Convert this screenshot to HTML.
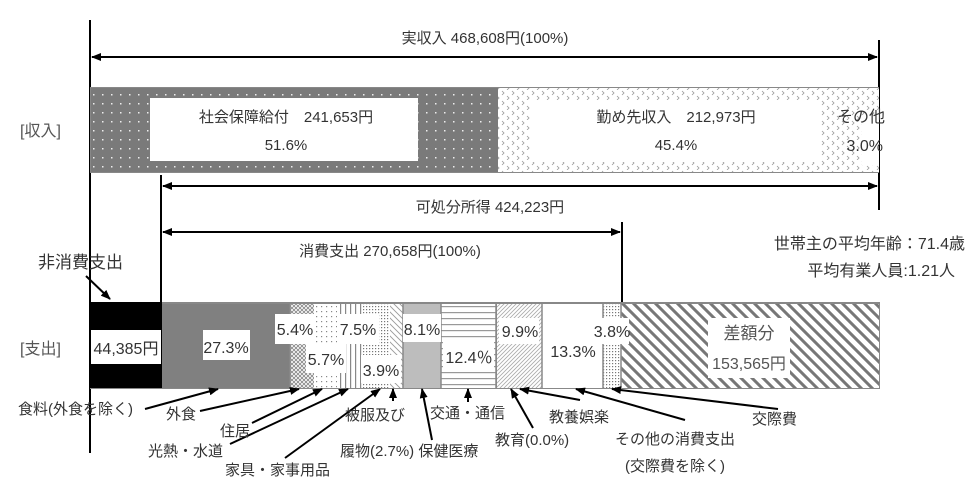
<!DOCTYPE html>
<html><head><meta charset="utf-8"><style>
html,body{margin:0;padding:0;background:#fff;}
svg{display:block;font-family:"Liberation Sans","Noto Sans CJK JP",sans-serif;}
text{fill:#333;font-size:15px;}
</style></head><body>
<svg width="978" height="497" viewBox="0 0 978 497" xmlns="http://www.w3.org/2000/svg">
<defs>
<pattern id="pdots" width="9" height="9" patternUnits="userSpaceOnUse"><rect width="9" height="9" fill="#7a7a7a"/><rect x="3" y="4" width="1.5" height="1.5" fill="#eee"/></pattern>
<pattern id="pwave" width="10" height="10" patternUnits="userSpaceOnUse"><rect width="10" height="10" fill="#fff"/><path d="M2 1 l2 2 l-2 2 M7 6 l2 2 l-2 2" stroke="#999" fill="none" stroke-width="0.8"/></pattern>
<pattern id="pcross" width="4" height="4" patternUnits="userSpaceOnUse"><rect width="4" height="4" fill="#fff"/><path d="M0 0 L4 4 M4 0 L0 4" stroke="#888" stroke-width="0.9"/></pattern>
<pattern id="pdot2" width="5" height="5" patternUnits="userSpaceOnUse"><rect width="5" height="5" fill="#fff"/><rect x="1" y="1" width="1.2" height="1.2" fill="#888"/></pattern>
<pattern id="pdot3" width="3" height="3" patternUnits="userSpaceOnUse"><rect width="3" height="3" fill="#fff"/><rect x="0" y="0" width="1.2" height="1.2" fill="#777"/></pattern>
<pattern id="pvert" width="5" height="5" patternUnits="userSpaceOnUse"><rect width="5" height="5" fill="#fff"/><rect x="0" width="1.2" height="5" fill="#888"/></pattern>
<pattern id="phor" width="6" height="6" patternUnits="userSpaceOnUse"><rect width="6" height="6" fill="#fff"/><rect y="0" width="6" height="1.2" fill="#999"/></pattern>
<pattern id="pdiagl" width="4" height="4" patternUnits="userSpaceOnUse"><rect width="4" height="4" fill="#fff"/><path d="M-1 1 L1 -1 M0 4 L4 0 M3 5 L5 3" stroke="#aaa" stroke-width="0.8"/></pattern>
<pattern id="pdiag" width="6" height="6" patternUnits="userSpaceOnUse"><rect width="6" height="6" fill="#fff"/><path d="M-1 -1 L7 7 M-1 5 L1 7 M5 -1 L7 1" stroke="#999" stroke-width="0.9"/></pattern>
<pattern id="phatch" width="11" height="11" patternUnits="userSpaceOnUse"><rect width="11" height="11" fill="#fff"/><path d="M-2 -2 L13 13 M-2 9 L2 13 M9 -2 L13 2" stroke="#777" stroke-width="3"/></pattern>
<marker id="ah" markerWidth="10" markerHeight="8" refX="9" refY="4" orient="auto" markerUnits="userSpaceOnUse"><path d="M0 0 L10 4 L0 8 z" fill="#000"/></marker>
<marker id="ahs" markerWidth="10" markerHeight="8" refX="1" refY="4" orient="auto" markerUnits="userSpaceOnUse"><path d="M10 0 L0 4 L10 8 z" fill="#000"/></marker>
</defs>

<line x1="90" y1="20" x2="90" y2="453" stroke="#000" stroke-width="2"/>
<line x1="879" y1="40" x2="879" y2="210" stroke="#000" stroke-width="2"/>
<line x1="161" y1="175" x2="161" y2="302" stroke="#000" stroke-width="2"/>
<line x1="622" y1="222" x2="622" y2="310" stroke="#000" stroke-width="2"/>

<line x1="92" y1="57" x2="877" y2="57" stroke="#000" stroke-width="2" marker-start="url(#ahs)" marker-end="url(#ah)"/>
<line x1="163" y1="186" x2="877" y2="186" stroke="#000" stroke-width="2" marker-start="url(#ahs)" marker-end="url(#ah)"/>
<line x1="163" y1="232" x2="620" y2="232" stroke="#000" stroke-width="2" marker-start="url(#ahs)" marker-end="url(#ah)"/>

<text x="485" y="43" text-anchor="middle">実収入 468,608円(100%)</text>
<text x="490" y="212" text-anchor="middle">可処分所得 424,223円</text>
<text x="390" y="256" text-anchor="middle">消費支出 270,658円(100%)</text>
<text x="965" y="249" text-anchor="end" style="font-size:16px">世帯主の平均年齢：71.4歳</text>
<text x="955" y="276" text-anchor="end" style="font-size:16px">平均有業人員:1.21人</text>

<rect x="90" y="87" width="789" height="86" fill="#888"/>
<rect x="91" y="88" width="407" height="84" fill="url(#pdots)"/>
<rect x="150" y="98" width="268" height="63" fill="#fff"/>
<rect x="498" y="88" width="357" height="84" fill="url(#pwave)"/>
<rect x="530" y="100" width="290" height="62" fill="#fff"/>
<rect x="855" y="88" width="24" height="84" fill="url(#pwave)"/>
<rect x="862" y="115" width="17" height="50" fill="#fff"/>
<text x="286" y="122" text-anchor="middle">社会保障給付　241,653円</text>
<text x="286" y="150" text-anchor="middle">51.6%</text>
<text x="676" y="122" text-anchor="middle">勤め先収入　212,973円</text>
<text x="676" y="150" text-anchor="middle">45.4%</text>
<text x="885" y="122" text-anchor="end" style="font-size:16px">その他</text>
<text x="883" y="151" text-anchor="end" style="font-size:16px">3.0%</text>
<text x="20" y="136" style="fill:#555;font-size:16px">[収入]</text>
<text x="20" y="354" style="fill:#555;font-size:16px">[支出]</text>

<rect x="90" y="302" width="790" height="87" fill="#888"/>
<rect x="90" y="302" width="72" height="86" fill="#000"/>
<rect x="162" y="304" width="128" height="84" fill="#808080"/>
<rect x="290" y="304" width="24" height="84" fill="url(#pcross)"/>
<rect x="314" y="304" width="23" height="84" fill="url(#pdot2)"/>
<rect x="337" y="304" width="25" height="84" fill="url(#pvert)"/>
<rect x="362" y="304" width="28" height="84" fill="url(#pdot3)"/>
<rect x="390" y="304" width="13" height="84" fill="url(#pdiag)"/>
<rect x="403" y="304" width="38" height="84" fill="#bdbdbd"/>
<rect x="441" y="304" width="55" height="84" fill="url(#phor)"/>
<rect x="497" y="304" width="45" height="84" fill="url(#pdiagl)"/>
<rect x="542" y="304" width="61" height="84" fill="#fff"/>
<rect x="603" y="304" width="18" height="84" fill="url(#pdot3)"/>
<rect x="621" y="304" width="258" height="84" fill="url(#phatch)"/>
<g stroke="#888" stroke-width="1.5"><line x1="290" y1="304" x2="290" y2="388"/><line x1="403" y1="304" x2="403" y2="388"/><line x1="441" y1="304" x2="441" y2="388"/><line x1="496" y1="304" x2="496" y2="388"/><line x1="542" y1="304" x2="542" y2="388"/><line x1="603" y1="304" x2="603" y2="388"/><line x1="621" y1="304" x2="621" y2="388"/></g>

<rect x="91" y="330" width="70" height="34" fill="#fff"/>
<text x="126" y="354" text-anchor="middle" style="font-size:16px">44,385円</text>
<rect x="203" y="330" width="47" height="30" fill="#fff"/>
<text x="226" y="353" text-anchor="middle" style="font-size:16px">27.3%</text>
<rect x="275" y="314" width="40" height="30" fill="#fff"/>
<text x="295" y="335" text-anchor="middle" style="font-size:16px">5.4%</text>
<rect x="306" y="343" width="40" height="30" fill="#fff"/>
<text x="326" y="365" text-anchor="middle" style="font-size:16px">5.7%</text>
<rect x="337" y="314" width="42" height="30" fill="#fff"/>
<text x="358" y="335" text-anchor="middle" style="font-size:16px">7.5%</text>
<rect x="361" y="355" width="40" height="28" fill="#fff"/>
<text x="381" y="376" text-anchor="middle" style="font-size:16px">3.9%</text>
<rect x="403" y="314" width="38" height="28" fill="#fff"/>
<text x="422" y="335" text-anchor="middle" style="font-size:16px">8.1%</text>
<rect x="443" y="342" width="51" height="28" fill="#fff"/>
<text x="469" y="363" text-anchor="middle" style="font-size:16px">12.4％</text>
<rect x="499" y="318" width="40" height="26" fill="#fff"/>
<text x="520" y="337" text-anchor="middle" style="font-size:16px">9.9%</text>
<text x="573" y="357" text-anchor="middle" style="font-size:16px">13.3%</text>
<rect x="593" y="318" width="36" height="26" fill="#fff"/>
<text x="612" y="337" text-anchor="middle" style="font-size:16px">3.8%</text>
<rect x="708" y="318" width="82" height="60" fill="#fff"/>
<text x="749" y="339" text-anchor="middle" style="font-size:17px;fill:#555">差額分</text>
<text x="749" y="369" text-anchor="middle" style="font-size:16px;fill:#555">153,565円</text>

<text x="38" y="268" style="font-size:17px">非消費支出</text>
<line x1="86" y1="276" x2="110" y2="299" stroke="#000" stroke-width="2" marker-end="url(#ah)"/>

<g stroke="#000" stroke-width="2" fill="none">
<line x1="145" y1="409" x2="218" y2="389" marker-end="url(#ah)"/>
<line x1="200" y1="411" x2="299" y2="389" marker-end="url(#ah)"/>
<line x1="252" y1="423" x2="322" y2="389" marker-end="url(#ah)"/>
<line x1="230" y1="444" x2="348" y2="389" marker-end="url(#ah)"/>
<line x1="285" y1="458" x2="380" y2="389" marker-end="url(#ah)"/>
<line x1="393" y1="401" x2="393" y2="389" marker-end="url(#ah)"/>
<line x1="432" y1="440" x2="422" y2="389" marker-end="url(#ah)"/>
<line x1="468" y1="402" x2="468" y2="389" marker-end="url(#ah)"/>
<line x1="533" y1="428" x2="511" y2="389" marker-end="url(#ah)"/>
<line x1="580" y1="400" x2="520" y2="389" marker-end="url(#ah)"/>
<line x1="685" y1="420" x2="576" y2="389" marker-end="url(#ah)"/>
<line x1="778" y1="409" x2="612" y2="389" marker-end="url(#ah)"/>
</g>
<text x="18" y="414">食料(外食を除く)</text>
<text x="166" y="419">外食</text>
<text x="220" y="436">住居</text>
<text x="148" y="456">光熱・水道</text>
<text x="225" y="475">家具・家事用品</text>
<text x="345" y="420">被服及び</text>
<text x="340" y="456">履物(2.7%) 保健医療</text>
<text x="430" y="418">交通・通信</text>
<text x="495" y="445">教育(0.0%)</text>
<text x="549" y="422">教養娯楽</text>
<text x="615" y="444">その他の消費支出</text>
<text x="625" y="471">(交際費を除く)</text>
<text x="752" y="424">交際費</text>
</svg>
</body></html>
